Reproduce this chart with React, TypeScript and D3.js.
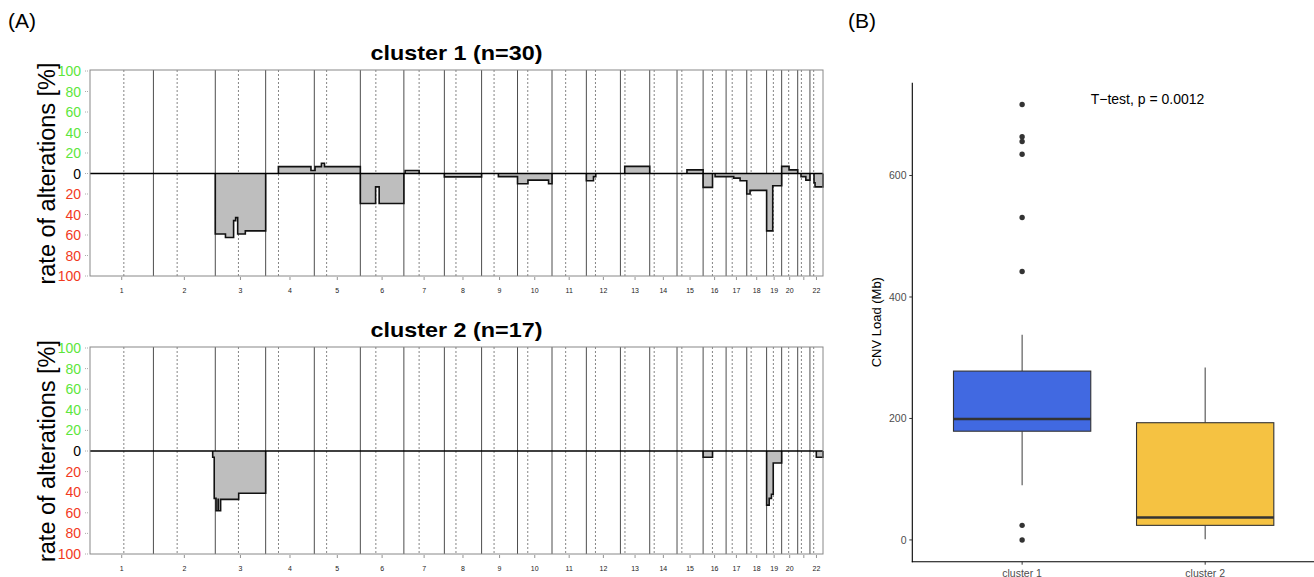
import { useEffect, useRef } from "react";
import * as d3 from "d3";

// hg19 chromosome sizes and centromere midpoints (Mb)
const chromNames = ["1", "2", "3", "4", "5", "6", "7", "8", "9", "10", "11", "12", "13", "14", "15", "16", "17", "18", "19", "20", "21", "22"];
const chromLengths = [249.25, 243.2, 198.02, 191.15, 180.92, 171.12, 159.14, 146.36, 141.21, 135.53, 135.01, 133.85, 115.17, 107.35, 102.53, 90.35, 81.2, 78.08, 59.13, 63.03, 48.13, 51.3];
const centromeres = [133, 93.3, 91.0, 50.4, 48.4, 61.0, 59.9, 45.6, 49.0, 40.2, 53.7, 35.8, 17.9, 17.6, 19.0, 36.6, 24.0, 17.2, 26.5, 27.5, 14.5, 14.7];

// [chromosome, start Mb, end Mb, % of samples] ; gain > 0, loss < 0
const cluster1Segments = [
  [3, 0, 40, -59], [3, 40, 72, -62.5], [3, 72, 80, -46], [3, 80, 88, -43], [3, 88, 118, -59], [3, 118, 198.02, -56],
  [4, 50, 178, 6.7], [4, 178, 191.15, 3], [5, 0, 3, 3], [5, 3, 28, 6.7], [5, 28, 40, 10], [5, 40, 180.92, 6.7],
  [6, 0, 60, -29.3], [6, 60, 74, -13], [6, 74, 171.12, -29.3],
  [7, 5, 60, 3],
  [8, 0, 146.36, -3.3],
  [9, 66, 141.21, -3],
  [10, 0, 41, -10], [10, 41, 122, -6.5], [10, 122, 135.53, -10],
  [12, 0, 28, -7], [12, 28, 37, -3],
  [13, 17, 115.17, 7],
  [15, 39, 102.53, 3.5],
  [16, 0, 37, -13.5],
  [16, 47, 90.35, -3], [17, 0, 30, -3], [17, 30, 55, -4.5], [17, 55, 81.2, -7],
  [18, 0, 13, -20], [18, 13, 78.08, -16.5], [19, 0, 24, -56], [19, 24, 59.13, -12],
  [20, 0, 29, 7], [20, 29, 63.03, 3.5],
  [21, 13, 32, -3], [21, 32, 48.13, -6.5],
  [22, 16, 20, -9], [22, 20, 51.3, -13],
];

const cluster2Segments = [
  [2, 233, 239, -6], [2, 239, 243.2, -46],
  [3, 0, 3, -46], [3, 3, 11, -58], [3, 11, 12, -47], [3, 12, 21, -58], [3, 21, 92, -47], [3, 92, 198.02, -41],
  [16, 0, 37, -6],
  [19, 0, 10, -52.5], [19, 10, 19, -46], [19, 19, 26, -42], [19, 26, 59.13, -11.6],
  [22, 25, 51.3, -6],
];

const yTicks = [100, 80, 60, 40, 20, 0, -20, -40, -60, -80, -100];

// panel B
const groups = ["cluster 1", "cluster 2"];
const groupColors = ["#4169E1", "#F5C242"];
// [lower whisker, Q1, median, Q3, upper whisker]
const boxStats = [
  [90, 179, 199, 278, 338],
  [1, 24, 37, 193, 284],
];
const outliers1 = [717, 664, 656, 635, 531, 442, 24, 0];
const outliers2: number[] = [];
const loadTicks = [0, 200, 400, 600];

const FONT = "Liberation Sans, Arial, Helvetica, sans-serif";

export default function App() {
  const svgRef = useRef<SVGSVGElement>(null);

  useEffect(() => {
    const svg = d3.select(svgRef.current);
    svg.selectAll("*").remove();

    const offsets = d3.cumsum([0, ...chromLengths]);
    const total = offsets[offsets.length - 1];
    const x = d3.scaleLinear().domain([0, total]).range([90, 823]);

    const drawPanel = (segments, title, top, bottom, titleY) => {
      const g = svg.append("g");
      const y = d3.scaleLinear().domain([-100, 100]).range([bottom, top + 1]);

      // chromosome boundaries
      g.selectAll("line.chr")
        .data(offsets.slice(1, -1))
        .enter()
        .append("line")
        .attr("x1", d => x(d)).attr("x2", d => x(d))
        .attr("y1", top).attr("y2", bottom)
        .attr("stroke", "#4d4d4d").attr("stroke-width", 1);

      // centromeres
      g.selectAll("line.cen")
        .data(centromeres)
        .enter()
        .append("line")
        .attr("x1", (d, i) => x(offsets[i] + d)).attr("x2", (d, i) => x(offsets[i] + d))
        .attr("y1", top).attr("y2", bottom)
        .attr("stroke", "#777").attr("stroke-width", 0.9)
        .attr("stroke-dasharray", "2,2");

      // profile: group contiguous segments into runs
      const segs = segments.map(s => ({ a: offsets[s[0] - 1] + s[1], b: offsets[s[0] - 1] + s[2], v: s[3] }))
        .sort((p, q) => p.a - q.a);
      const runs = [];
      segs.forEach(s => {
        const last = runs[runs.length - 1];
        if (last && Math.abs(last[last.length - 1].b - s.a) < 0.01) last.push(s);
        else runs.push([s]);
      });
      const area = d3.area().curve(d3.curveStepAfter).x(d => x(d[0])).y0(y(0)).y1(d => y(d[1]));
      const line = d3.line().curve(d3.curveStepAfter).x(d => x(d[0])).y(d => y(d[1]));
      runs.forEach(run => {
        const pts = [[run[0].a, 0], ...run.map(s => [s.a, s.v]), [run[run.length - 1].b, 0]];
        g.append("path").attr("d", area(pts)).attr("fill", "#BEBEBE");
        g.append("path").attr("d", line(pts)).attr("fill", "none")
          .attr("stroke", "#111").attr("stroke-width", 1.6);
      });

      // zero line
      g.append("line")
        .attr("x1", 90).attr("x2", 823)
        .attr("y1", y(0)).attr("y2", y(0))
        .attr("stroke", "#000").attr("stroke-width", 1.5);

      // frame
      g.append("rect")
        .attr("x", 90).attr("y", top)
        .attr("width", 733).attr("height", bottom - top)
        .attr("fill", "none").attr("stroke", "#888").attr("stroke-width", 1);

      // y axis
      yTicks.forEach(t => {
        g.append("line")
          .attr("x1", 85).attr("x2", 89)
          .attr("y1", y(t)).attr("y2", y(t))
          .attr("stroke", "#aaa").attr("stroke-width", 1)
          .attr("stroke-dasharray", "1,1");
        g.append("text")
          .attr("x", 81).attr("y", y(t) + 5)
          .attr("text-anchor", "end")
          .style("font-family", FONT).style("font-size", "14px")
          .style("fill", t > 0 ? "#5CE63C" : t < 0 ? "#F2391E" : "#000")
          .text(Math.abs(t));
      });
      g.append("text")
        .attr("transform", `translate(55, ${y(0)}) rotate(-90)`)
        .attr("text-anchor", "middle")
        .style("font-family", FONT).style("font-size", "23.5px")
        .style("fill", "#000")
        .text("rate of alterations [%]");

      // x axis: ticks at chromosome centers
      chromNames.forEach((name, i) => {
        const cx = x(offsets[i] + chromLengths[i] / 2);
        g.append("line")
          .attr("x1", cx).attr("x2", cx)
          .attr("y1", bottom + 1).attr("y2", bottom + 4)
          .attr("stroke", "#777").attr("stroke-width", 0.8);
        if (name !== "21") {
          g.append("text")
            .attr("x", cx).attr("y", bottom + 17)
            .attr("text-anchor", "middle")
            .style("font-family", FONT).style("font-size", "7px")
            .style("fill", "#222")
            .text(name);
        }
      });

      g.append("text")
        .attr("x", 456.5).attr("y", titleY)
        .attr("text-anchor", "middle")
        .attr("textLength", 172).attr("lengthAdjust", "spacingAndGlyphs")
        .style("font-family", FONT).style("font-size", "21px").style("font-weight", "bold")
        .text(title);
    };

    drawPanel(cluster1Segments, "cluster 1 (n=30)", 70, 276, 59.5);
    drawPanel(cluster2Segments, "cluster 2 (n=17)", 347, 554, 336.5);

    // panel labels
    svg.append("text").attr("x", 8).attr("y", 28)
      .style("font-family", FONT).style("font-size", "21px").text("(A)");
    svg.append("text").attr("x", 848).attr("y", 28)
      .style("font-family", FONT).style("font-size", "21px").text("(B)");

    // ---- panel B: box plot ----
    const b = svg.append("g");
    const yL = d3.scaleLinear().domain([-35.85, 752.85]).range([561.7, 82.7]);
    const xB = d3.scalePoint().domain(groups).range([912.3, 1315]).padding(0.6);
    const bw = xB.step() * 0.75;

    boxStats.forEach((s, i) => {
      const cx = xB(groups[i]);
      b.append("line").attr("x1", cx).attr("x2", cx).attr("y1", yL(s[3])).attr("y2", yL(s[4]))
        .attr("stroke", "#4d4d4d").attr("stroke-width", 1.1);
      b.append("line").attr("x1", cx).attr("x2", cx).attr("y1", yL(s[0])).attr("y2", yL(s[1]))
        .attr("stroke", "#4d4d4d").attr("stroke-width", 1.1);
      b.append("rect")
        .attr("x", cx - bw / 2).attr("y", yL(s[3]))
        .attr("width", bw).attr("height", yL(s[1]) - yL(s[3]))
        .attr("fill", groupColors[i]).attr("stroke", "#333").attr("stroke-width", 1.1);
      b.append("line").attr("x1", cx - bw / 2).attr("x2", cx + bw / 2)
        .attr("y1", yL(s[2])).attr("y2", yL(s[2]))
        .attr("stroke", "#333").attr("stroke-width", 2.4);
    });
    [outliers1, outliers2].forEach((pts, i) => {
      b.selectAll(null).data(pts).enter().append("circle")
        .attr("cx", xB(groups[i])).attr("cy", d => yL(d)).attr("r", 2.7)
        .attr("fill", "#333");
    });

    // axes
    b.append("line").attr("x1", 912.3).attr("x2", 912.3).attr("y1", 82.7).attr("y2", 562.2)
      .attr("stroke", "#000").attr("stroke-width", 1.1);
    b.append("line").attr("x1", 911.8).attr("x2", 1314).attr("y1", 561.7).attr("y2", 561.7)
      .attr("stroke", "#000").attr("stroke-width", 1.1);
    loadTicks.forEach(t => {
      b.append("line").attr("x1", 909.3).attr("x2", 912.3).attr("y1", yL(t)).attr("y2", yL(t))
        .attr("stroke", "#333").attr("stroke-width", 1);
      b.append("text").attr("x", 906.5).attr("y", yL(t) + 3.8)
        .attr("text-anchor", "end")
        .style("font-family", FONT).style("font-size", "10.5px").style("fill", "#4d4d4d")
        .text(t);
    });
    groups.forEach(gname => {
      const cx = xB(gname);
      b.append("line").attr("x1", cx).attr("x2", cx).attr("y1", 561.7).attr("y2", 564.7)
        .attr("stroke", "#333").attr("stroke-width", 1);
      b.append("text").attr("x", cx).attr("y", 576.5)
        .attr("text-anchor", "middle")
        .style("font-family", FONT).style("font-size", "10.5px").style("fill", "#4d4d4d")
        .text(gname);
    });
    b.append("text")
      .attr("transform", `translate(880.5, 322.2) rotate(-90)`)
      .attr("text-anchor", "middle")
      .style("font-family", FONT).style("font-size", "13px").style("fill", "#000")
      .text("CNV Load (Mb)");
    b.append("text")
      .attr("x", 1147.5).attr("y", 104.3)
      .attr("text-anchor", "middle")
      .style("font-family", FONT).style("font-size", "14px").style("fill", "#000")
      .text("T\u2212test, p = 0.0012");
  }, []);

  return (
    <svg
      ref={svgRef}
      width={1314}
      height={577}
      style={{ position: "absolute", left: 0, top: 0, background: "#fff", display: "block" }}
    />
  );
}
